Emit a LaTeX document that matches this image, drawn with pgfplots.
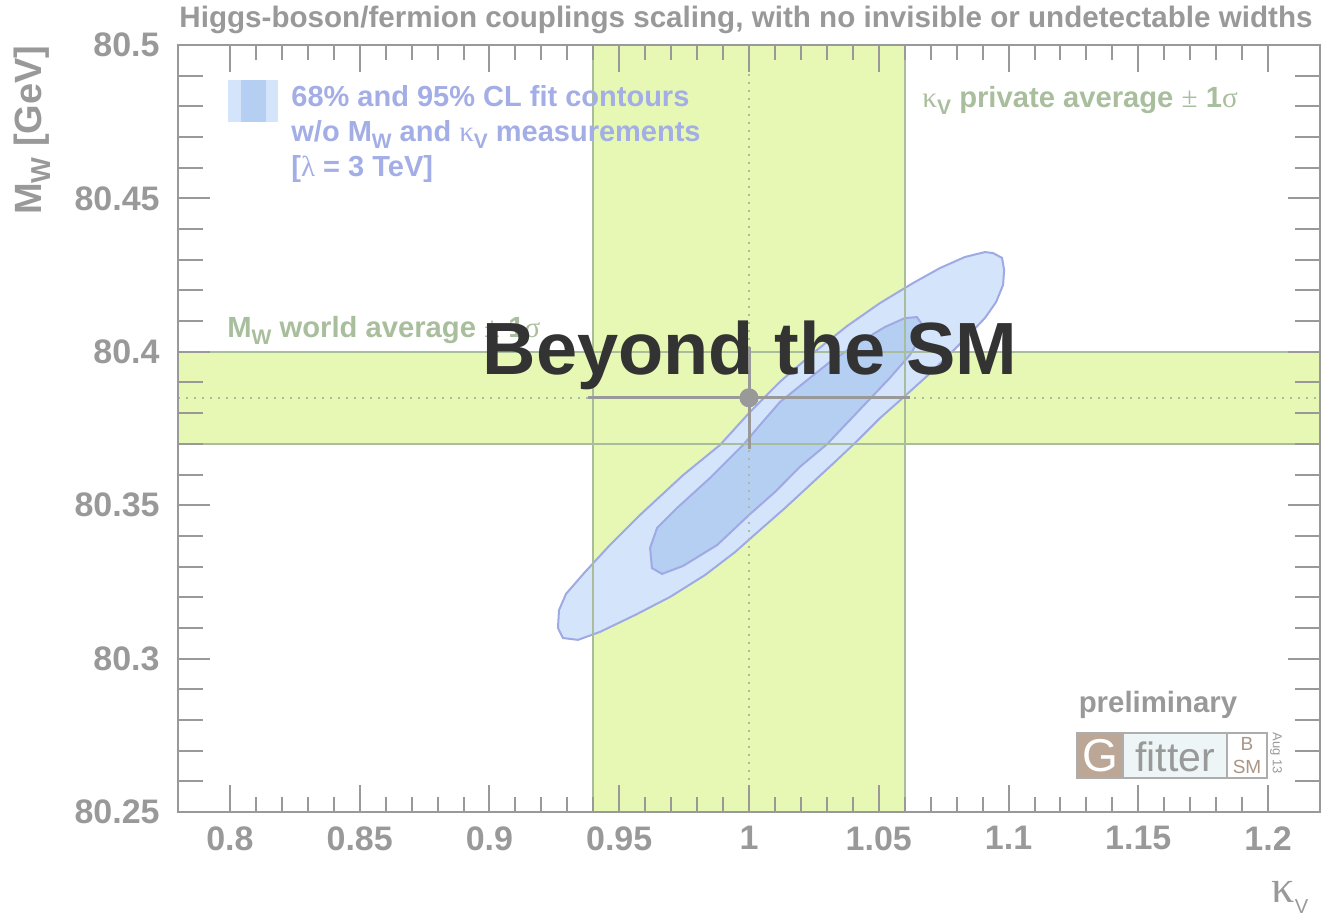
\documentclass[border=0pt]{standalone}
\usepackage{fontspec}
\setmainfont{Liberation Sans}
\newfontfamily\serif{Liberation Serif}
\usepackage{graphicx}
\usepackage{pgfplots}
\pgfplotsset{compat=1.18}

\definecolor{axisgray}{HTML}{999999}
\definecolor{bandfill}{HTML}{E6F8B4}
\definecolor{bandline}{HTML}{A9BD9C}
\definecolor{ctrA}{HTML}{D4E4FB}
\definecolor{ctrB}{HTML}{B4CFF2}
\definecolor{ctredge}{HTML}{9FA9E3}
\definecolor{legtext}{HTML}{A3ADE6}
\definecolor{greentext}{HTML}{A8BE9C}
\definecolor{logobrown}{HTML}{BCA796}
\definecolor{logofit}{HTML}{EEF5F6}

\newcommand\sub[1]{\raisebox{-0.45ex}{\scalebox{0.72}{#1}}}
\newcommand\fs[1]{\fontsize{#1}{#1}\selectfont}

\begin{document}
\begin{tikzpicture}
\useasboundingbox (0,0) rectangle (662pt,460.5pt);

% main axis: bands, contours, measurement, x ticks
\begin{axis}[
    at={(89pt,54.5pt)}, anchor=south west,
    width=571pt, height=383.5pt, scale only axis,
    xmin=0.78, xmax=1.22, ymin=80.25, ymax=80.5,
    axis on top,
    xtick={0.8,0.85,0.9,0.95,1,1.05,1.1,1.15,1.2},
    minor x tick num=4,
    ytick=\empty,
    tick align=inside, xtick pos=both,
    major tick length=13.5pt, minor tick length=7.5pt,
    every tick/.style={axisgray, line width=1pt},
    axis line style={axisgray, line width=1.2pt},
    xticklabel style={font=\bfseries\fs{17}, text=axisgray, inner sep=0pt, yshift=-7pt},
    /pgf/number format/assume math mode=true,
]
% kappa_V band and M_W band
\addplot[fill=bandfill, draw=none] coordinates {(0.94,80.25) (1.06,80.25) (1.06,80.5) (0.94,80.5)} -- cycle;
\addplot[fill=bandfill, draw=none] coordinates {(0.78,80.37) (1.22,80.37) (1.22,80.40) (0.78,80.40)} -- cycle;

% 95% CL contour
\addplot[fill=ctrA, draw=ctredge, line width=1pt] coordinates {
(1.0940,80.4322) (1.0975,80.4306) (1.0983,80.4267) (1.0979,80.4218) (1.0952,80.4162)
(1.0909,80.4110) (1.0844,80.4052) (1.0774,80.3993) (1.0690,80.3924) (1.0601,80.3856)
(1.0505,80.3784) (1.0420,80.3712) (1.0331,80.3641) (1.0235,80.3566) (1.0139,80.3491)
(1.0042,80.3419) (0.9946,80.3347) (0.9830,80.3272) (0.9696,80.3201) (0.9561,80.3142)
(0.9426,80.3087) (0.9341,80.3061) (0.9283,80.3067) (0.9264,80.3100) (0.9268,80.3158)
(0.9295,80.3211) (0.9368,80.3282) (0.9464,80.3370) (0.9580,80.3468) (0.9746,80.3598)
(0.9888,80.3696) (1.0004,80.3804) (1.0119,80.3902) (1.0247,80.3996) (1.0378,80.4084)
(1.0505,80.4159) (1.0632,80.4224) (1.0736,80.4273) (1.0832,80.4309) (1.0909,80.4325)
} -- cycle;
% 68% CL contour
\addplot[fill=ctrB, draw=ctredge, line width=1pt] coordinates {
(0.9619,80.3361) (0.9646,80.3426) (0.9723,80.3491) (0.9850,80.3589) (0.9977,80.3696)
(1.0042,80.3761) (1.0119,80.3836) (1.0216,80.3902) (1.0312,80.3967) (1.0428,80.4032)
(1.0524,80.4081) (1.0601,80.4110) (1.0647,80.4113) (1.0663,80.4094) (1.0655,80.4038)
(1.0620,80.3990) (1.0543,80.3915) (1.0451,80.3833) (1.0370,80.3761) (1.0301,80.3699)
(1.0196,80.3625) (1.0100,80.3543) (1.0000,80.3468) (0.9877,80.3370) (0.9746,80.3302)
(0.9665,80.3276) (0.9626,80.3295)
} -- cycle;

% band edges and central values
\addplot[bandline, line width=1pt] coordinates {(0.94,80.25) (0.94,80.5)};
\addplot[bandline, line width=1pt] coordinates {(1.06,80.25) (1.06,80.5)};
\addplot[bandline, line width=1pt] coordinates {(0.78,80.37) (1.22,80.37)};
\addplot[bandline, line width=1pt] coordinates {(0.78,80.40) (1.22,80.40)};
\addplot[bandline, line width=1pt, dash pattern=on 1pt off 3pt] coordinates {(1,80.25) (1,80.5)};
\addplot[bandline, line width=1pt, dash pattern=on 1pt off 3pt] coordinates {(0.78,80.385) (1.22,80.385)};

% measurement point
\addplot[axisgray, line width=1.5pt, mark=*, mark size=4pt,
    error bars/.cd, x dir=both, x explicit, y dir=both, y explicit,
    error bar style={line width=1.5pt, axisgray},
    error mark options={line width=1.5pt, mark size=2.5pt, axisgray}]
    coordinates {(1,80.385) +- (0.06,0.015)};
\end{axis}

% second axis: y ticks (longer in this direction)
\begin{axis}[
    at={(89pt,54.5pt)}, anchor=south west,
    width=571pt, height=383.5pt, scale only axis,
    xmin=0.78, xmax=1.22, ymin=80.25, ymax=80.5,
    xtick=\empty,
    ytick={80.25,80.3,80.35,80.4,80.45,80.5},
    minor y tick num=4,
    tick align=inside, ytick pos=both,
    major tick length=16pt, minor tick length=12.5pt,
    every tick/.style={axisgray, line width=1pt},
    axis line style={axisgray, line width=1.2pt},
    yticklabel style={font=\bfseries\fs{17}, text=axisgray, inner sep=0pt, xshift=-9pt},
    /pgf/number format/assume math mode=true,
]
\end{axis}

% titles and labels
\node[font=\bfseries\fs{14.8}, text=axisgray] at (373pt,450.5pt)
    {Higgs-boson/fermion couplings scaling, with no invisible or undetectable widths};
\node[rotate=90, anchor=east, font=\bfseries\fs{19}, text=axisgray, inner sep=0pt] at (16pt,438pt)
    {M\sub{W} [GeV]};
\node[font=\fs{23}, text=axisgray, inner sep=0pt] at (645pt,12pt)
    {{\serif κ}\sub{\fs{14}V}};

% legend
\fill[ctrA] (114pt,399.5pt) rectangle (139pt,420.5pt);
\fill[ctrB] (120.5pt,399.5pt) rectangle (133pt,420.5pt);
\begin{scope}[every node/.style={anchor=base west, inner sep=0pt, font=\bfseries\fs{14.5}, text=legtext}]
\node at (145.5pt,407pt) {68\% and 95\% CL fit contours};
\node at (145.5pt,389.5pt) {w/o M\sub{W} and {\mdseries\serif κ}\sub{V} measurements};
\node at (145.5pt,372pt) {[{\mdseries\serif λ} = 3 TeV]};
\end{scope}

\begin{scope}[every node/.style={anchor=base west, inner sep=0pt, font=\bfseries\fs{14.6}, text=greentext}]
\node at (461pt,406.5pt) {{\mdseries\serif κ}\sub{V} private average {\mdseries\serif ±} 1{\mdseries\serif σ}};
\node at (113.5pt,291.5pt) {M\sub{W} world average {\mdseries\serif ±} 1{\mdseries\serif σ}};
\end{scope}

\node[anchor=base, inner sep=0pt, font=\bfseries\fs{37}, text=black!80] at (375pt,273pt) {Beyond the SM};

% preliminary and logo
\node[anchor=base, inner sep=0pt, font=\bfseries\fs{14.7}, text=axisgray] at (579pt,104pt) {preliminary};
\filldraw[fill=logobrown, draw=axisgray!80, line width=0.8pt] (538.5pt,71.5pt) rectangle (561.5pt,94pt);
\filldraw[fill=logofit, draw=axisgray!80, line width=0.8pt] (561.5pt,71.5pt) rectangle (613.5pt,94pt);
\filldraw[fill=white, draw=axisgray!80, line width=0.8pt] (613.5pt,71.5pt) rectangle (633.5pt,94pt);
\node[font=\fs{23}, text=white, inner sep=0pt] at (550pt,82.75pt) {G};
\node[font=\fs{20.5}, text=axisgray, inner sep=0pt] at (587.5pt,82pt) {fitter};
\node[font=\fs{9.5}, text=logobrown!90!black, inner sep=0pt] at (623.5pt,88.5pt) {B};
\node[font=\fs{9.5}, text=logobrown!90!black, inner sep=0pt] at (623.5pt,77pt) {SM};
\node[rotate=-90, font=\fs{6.5}, text=axisgray, inner sep=0pt] at (638pt,84pt) {Aug 13};
\end{tikzpicture}
\end{document}
